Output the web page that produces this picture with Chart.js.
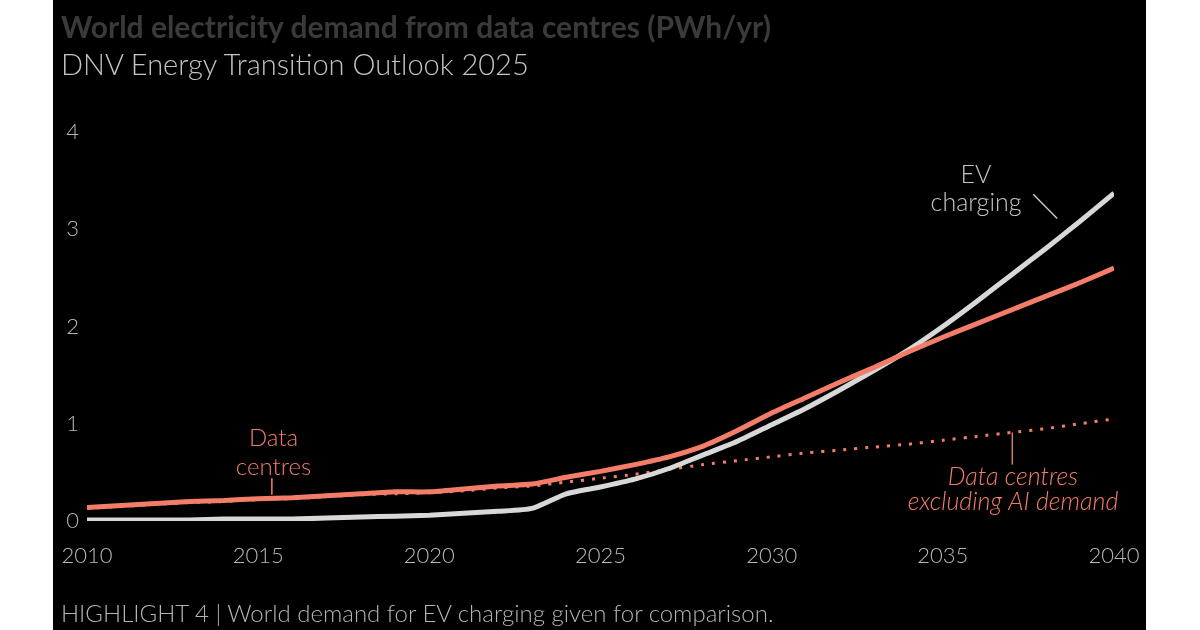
<!DOCTYPE html>
<html lang="en">
<head>
  <meta charset="UTF-8">
  <title>World electricity demand from data centres</title>
  <script src="https://cdn.jsdelivr.net/npm/chart.js"></script>
  <style>
    html, body { margin: 0; padding: 0; background: #fff; }
    body { width: 1200px; height: 630px; position: relative; overflow: hidden; font-family: Lato, "Noto Sans", sans-serif; }
    .panel { position: absolute; left: 53px; top: 0; width: 1093px; height: 630px; background: #000; }
    canvas { position: absolute; left: 0; top: 0; }
    .title { position: absolute; left: 61px; top: 8px; font-size: 30px; font-weight: 700; color: #3a3a3a; }
    .subtitle { position: absolute; left: 61px; top: 46px; font-size: 29px; font-weight: 300; color: #c4c4c4; }
    .footer { position: absolute; left: 61px; top: 598px; font-size: 24px; font-weight: 300; color: #b4b4b4; }
  </style>
</head>
<body>
  <div class="panel"></div>
  <canvas id="grafico" width="1200" height="630"></canvas>
  <div class="title">World electricity demand from data centres (PWh/yr)</div>
  <div class="subtitle">DNV Energy Transition Outlook 2025</div>
  <div class="footer">HIGHLIGHT 4 | World demand for EV charging given for comparison.</div>

  <script>
    const years = [2010, 2011, 2012, 2013, 2014, 2015, 2016, 2017, 2018, 2019, 2020,
                   2021, 2022, 2023, 2024, 2025, 2026, 2027, 2028, 2029, 2030,
                   2031, 2032, 2033, 2034, 2035, 2036, 2037, 2038, 2039, 2040];
    const dataCentres = [0.14, 0.16, 0.18, 0.20, 0.21, 0.23, 0.24, 0.26, 0.28, 0.30, 0.30,
                         0.33, 0.36, 0.38, 0.45, 0.51, 0.58, 0.66, 0.77, 0.93, 1.11,
                         1.27, 1.43, 1.58, 1.74, 1.89, 2.03, 2.17, 2.31, 2.45, 2.60];
    const excludingAI = [0.13, 0.15, 0.17, 0.19, 0.20, 0.22, 0.23, 0.25, 0.27, 0.28, 0.29,
                         0.31, 0.34, 0.36, 0.40, 0.44, 0.48, 0.53, 0.58, 0.62, 0.66,
                         0.70, 0.73, 0.76, 0.79, 0.83, 0.87, 0.91, 0.95, 1.00, 1.05];
    const evCharging = [0.01, 0.01, 0.01, 0.01, 0.02, 0.02, 0.02, 0.03, 0.04, 0.05, 0.06,
                        0.08, 0.10, 0.13, 0.28, 0.35, 0.43, 0.54, 0.68, 0.82, 0.99,
                        1.16, 1.35, 1.55, 1.76, 2.00, 2.26, 2.53, 2.80, 3.08, 3.37];
    const yTicks = [0, 1, 2, 3, 4];

    const salmon = '#f47d69';
    const grey = '#d8d8d8';
    const tickColor = '#b8b8b8';

    const pts = arr => arr.map((v, i) => ({ x: years[i], y: v }));

    // labels + leader lines, placed through the scales
    const annotations = {
      id: 'annotations',
      afterDatasetsDraw(chart) {
        const { ctx, scales: { x, y } } = chart;
        ctx.save();
        ctx.textAlign = 'center';
        ctx.textBaseline = 'middle';
        ctx.lineWidth = 1.5;

        ctx.fillStyle = salmon;
        ctx.font = '300 24px Lato';
        ctx.fillText('Data', x.getPixelForValue(2015.45), y.getPixelForValue(0.85));
        ctx.fillText('centres', x.getPixelForValue(2015.45), y.getPixelForValue(0.55));
        ctx.strokeStyle = salmon;
        ctx.beginPath();
        ctx.moveTo(x.getPixelForValue(2015.4), y.getPixelForValue(0.44));
        ctx.lineTo(x.getPixelForValue(2015.4), y.getPixelForValue(0.27));
        ctx.stroke();

        ctx.font = 'italic 300 25px Lato';
        ctx.fillText('Data centres', x.getPixelForValue(2037.05), y.getPixelForValue(0.45));
        ctx.fillText('excluding AI demand', x.getPixelForValue(2037.05), y.getPixelForValue(0.195));
        ctx.strokeStyle = '#c9806f';
        ctx.beginPath();
        ctx.moveTo(x.getPixelForValue(2037.03), y.getPixelForValue(0.91));
        ctx.lineTo(x.getPixelForValue(2037.03), y.getPixelForValue(0.58));
        ctx.stroke();

        ctx.fillStyle = '#c4c4c4';
        ctx.font = '300 25px Lato';
        ctx.fillText('EV', x.getPixelForValue(2035.97), y.getPixelForValue(3.56));
        ctx.fillText('charging', x.getPixelForValue(2035.97), y.getPixelForValue(3.27));
        ctx.strokeStyle = '#c4c4c4';
        ctx.beginPath();
        ctx.moveTo(x.getPixelForValue(2037.64), y.getPixelForValue(3.36));
        ctx.lineTo(x.getPixelForValue(2038.34), y.getPixelForValue(3.11));
        ctx.stroke();
        ctx.restore();
      }
    };

    new Chart(document.getElementById('grafico'), {
      type: 'line',
      data: {
        datasets: [{
          label: 'Data centres',
          data: pts(dataCentres),
          borderColor: salmon,
          borderWidth: 5,
          pointRadius: 0,
          tension: 0.2,
          order: 0
        }, {
          label: 'EV charging',
          data: pts(evCharging),
          borderColor: grey,
          borderWidth: 5,
          pointRadius: 0,
          tension: 0.2,
          order: 1
        }, {
          label: 'Data centres excluding AI demand',
          data: pts(excludingAI),
          borderColor: salmon,
          borderWidth: 3,
          borderDash: [3, 8],
          pointRadius: 0,
          tension: 0.2,
          order: 2
        }]
      },
      options: {
        responsive: false,
        animation: false,
        layout: { padding: { left: 0, right: 86, top: 132, bottom: 0 } },
        plugins: {
          legend: { display: false },
          tooltip: { enabled: false }
        },
        scales: {
          x: {
            type: 'linear',
            min: 2010,
            max: 2040,
            border: { display: false },
            grid: { display: false, drawTicks: false },
            ticks: {
              stepSize: 5,
              padding: 22,
              color: tickColor,
              font: { family: 'Lato', size: 22, weight: 300 },
              maxRotation: 0,
              callback: v => String(v)
            },
            afterFit: s => { s.height = 109; }
          },
          y: {
            min: 0,
            max: 4,
            border: { display: false },
            grid: { display: false, drawTicks: false },
            afterBuildTicks: s => { s.ticks = yTicks.map(v => ({ value: v })); },
            ticks: {
              padding: 8,
              color: tickColor,
              font: { family: 'Lato', size: 22, weight: 300 },
              callback: v => String(v)
            },
            afterFit: s => { s.width = 87; }
          }
        }
      },
      plugins: [annotations]
    });
  </script>
</body>
</html>
